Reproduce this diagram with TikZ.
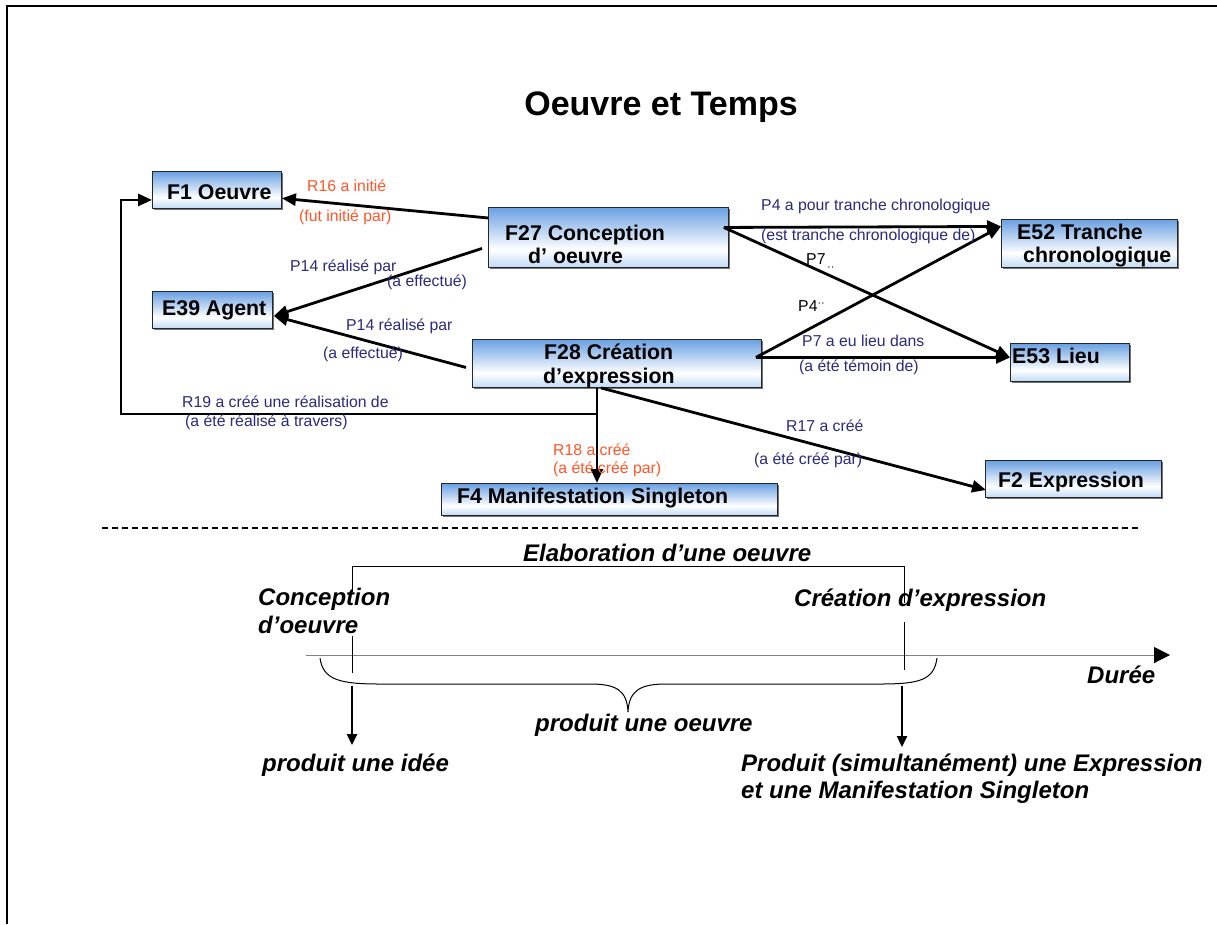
\documentclass[tikz,border=0pt]{standalone}
\usepackage{fontspec}
\setmainfont{Liberation Sans}
\usetikzlibrary{arrows.meta,calc,shadows}
\definecolor{lab}{RGB}{42,42,128}
\definecolor{lor}{RGB}{255,85,40}
\definecolor{btop}{RGB}{105,160,226}
\definecolor{bbot}{RGB}{190,218,245}
\pgfdeclareverticalshading{boxshade}{100bp}{color(0bp)=(bbot); color(25bp)=(bbot); color(40bp)=(white); color(75bp)=(btop); color(100bp)=(btop)}
\begin{document}
\begin{tikzpicture}[x=1pt,y=-1pt,
  box/.style={draw=black!85, line width=0.9pt, shading=boxshade, inner sep=0pt, anchor=north west,
    drop shadow={shadow xshift=2pt, shadow yshift=-2pt, fill=black!55, opacity=1}},
  btxt/.style={font=\fontsize{21.3}{25}\selectfont\bfseries, inner sep=0pt, anchor=base west},
  lbl/.style={font=\fontsize{15.8}{18}\selectfont, inner sep=0pt, anchor=west, text=lab},
  olbl/.style={lbl, text=lor},
  klbl/.style={lbl, text=black},
  arr/.style={line width=2.8pt, -{Triangle[length=14pt,width=12pt]}},
  itx/.style={font=\fontsize{24}{28}\selectfont\bfseries\itshape, inner sep=0pt, anchor=base west},
  down/.style={line width=2.4pt, -{Triangle[length=11pt,width=10pt]}}
]
\useasboundingbox (0,0) rectangle (1217,924);
\fill[white] (0,0) rectangle (1217,924);
\draw[line width=2pt] (7,924) -- (7,6) -- (1217,6);

\node[font=\fontsize{34}{40}\selectfont\bfseries, inner sep=0pt, anchor=base] (title) at (661,115) {Oeuvre et Temps};

% boxes
\node[box, minimum width=129pt, minimum height=37pt] (f1) at (152,171) {};
\node[box, minimum width=240pt, minimum height=60pt] (f27) at (488,207) {};
\node[box, minimum width=120pt, minimum height=37pt] (e39) at (152,291) {};
\node[box, minimum width=289pt, minimum height=48pt] (f28) at (472,339) {};
\node[box, minimum width=176pt, minimum height=48pt] (e52) at (1001,219) {};
\node[box, minimum width=119pt, minimum height=38pt] (e53) at (1010,343) {};
\node[box, minimum width=336pt, minimum height=32pt] (f4) at (441,483) {};
\node[box, minimum width=176pt, minimum height=37pt] (f2) at (985,460) {};

\node[btxt] (f1t) at (167,199) {F1 Oeuvre};
\node[btxt] (f27t) at (505,240) {F27 Conception};
\node[btxt] (f27u) at (528,263) {d’ oeuvre};
\node[btxt] (e39t) at (162,315) {E39 Agent};
\node[btxt] (f28t) at (544,359) {F28 Création};
\node[btxt] (f28u) at (543,383) {d’expression};
\node[btxt] (e52t) at (1017,239) {E52 Tranche};
\node[btxt] (e52u) at (1023,262) {chronologique};
\node[btxt] (e53t) at (1012,363) {E53 Lieu};
\node[btxt] (f4t) at (457,503) {F4 Manifestation Singleton};
\node[btxt] (f2t) at (998,487) {F2 Expression};

% connector end points
\coordinate (r16s) at ($(f27.north west)!0.18!(f27.south west)$);
\coordinate (r16e) at ($(f1.north east)!0.72!(f1.south east)$);
\coordinate (p14a) at ($(f27.west)+(-6,11)$);
\coordinate (p14b) at ($(f28.west)+(-6,4)$);
\coordinate (e39in) at ($(e39.east)+(1,6)$);
\coordinate (r19s) at ($(f28.south)+(-20,0)$);
\coordinate (c19) at (121,414);
\coordinate (f1in) at ($(f1.west)+(0,10)$);
\coordinate (r17s) at ($(f28.south)+(-16,0)$);
\coordinate (f2in) at ($(f2.west)+(1,11)$);
\coordinate (p4s) at ($(f27.east)+(-5,-10)$);
\coordinate (e52in) at ($(e52.west)+(0,-17)$);
\coordinate (e53in) at ($(e53.west)+(0,-5)$);
\coordinate (p7s) at ($(f28.east)+(-6,-6)$);

\draw[arr] (r16s) -- (r16e);
\draw[arr] (p14a) -- (e39in);
\draw[arr] (p14b) -- (e39in);
\draw[arr] (r19s) -- (r19s |- c19) -- (c19) |- (f1in);
\draw[arr] (r19s) -- (r19s |- f4.north);
\draw[arr] (r17s) -- (f2in);
\draw[arr] (p4s) -- (e52in);
\draw[arr] (p4s) -- (e53in);
\draw[arr] (p7s) -- (e52in);
\draw[arr] (p7s) -- (e53in);

% labels
\node[olbl] (l1) at (307,186) {R16 a initié};
\node[olbl] (l2) at (299,217) {(fut initié par)};
\node[lbl] (l3) at (290,267) {P14 réalisé par};
\node[lbl] (l4) at (387,282) {(a effectué)};
\node[lbl] (l5) at (346,326) {P14 réalisé par};
\node[lbl] (l6) at (323,354) {(a effectué)};
\node[lbl] (l7) at (182,402) {R19 a créé une réalisation de};
\node[lbl] (l8) at (185,422) {(a été réalisé à travers)};
\node[lbl] (l9) at (761,206) {P4 a pour tranche chronologique};
\node[lbl] (l10) at (761,236) {(est tranche chronologique de)};
\node[klbl] (l11) at (806,259) {P7};
\node[klbl, font=\fontsize{11}{11}\selectfont] (l12) at (827,269) {··};
\node[klbl] (l13) at (798,306) {P4\raisebox{5pt}{\fontsize{11}{11}\selectfont ··}};
\node[lbl] (l14) at (802,341) {P7 a eu lieu dans};
\node[lbl] (l15) at (799,367) {(a été témoin de)};
\node[olbl] (l16) at (553,450) {R18 a créé};
\node[olbl] (l17) at (553,469) {(a été créé par)};
\node[lbl] (l18) at (786,426) {R17 a créé};
\node[lbl] (l19) at (754,460) {(a été créé par)};

% separator
\draw[line width=1.5pt, dash pattern=on 6pt off 4pt] (102,528) -- (1140,528);

% timeline
\coordinate (ax0) at (306,655);
\coordinate (ax1) at (1170,655);
\draw[black!50, line width=1pt, -{Triangle[length=16pt,width=16pt,color=black]}] (ax0) -- (ax1);
\draw[line width=1pt] (352,592) -- (352,566) -- (904,566) -- (904,603);
\draw[line width=1pt] (352,636) -- (352,673);
\draw[line width=1pt] (904,622) -- (904,670);
\draw[line width=1pt] (320,658) .. controls (323,680) and (340,684) .. (380,684) -- (590,684)
  .. controls (616,684) and (627,690) .. (628,712) .. controls (629,690) and (641,684) .. (666,684)
  -- (880,684) .. controls (920,684) and (934,680) .. (937,658);
\draw[down] (352,686) -- (352,745);
\draw[down] (902,686) -- (902,747);

\node[itx] (elab) at (523,561) {Elaboration d’une oeuvre};
\node[itx] (conc) at (258,605) {Conception};
\node[itx] (conc2) at (258,633) {d’oeuvre};
\node[itx] (crea) at (794,606) {Création d’expression};
\node[itx] (duree) at (1087,683) {Durée};
\node[itx] (pro) at (535,731) {produit une oeuvre};
\node[itx] (idee) at (262,771) {produit une idée};
\node[itx] (pe1) at (741,771) {Produit (simultanément) une Expression};
\node[itx] (pe2) at (741,798) {et une Manifestation Singleton};
\end{tikzpicture}
\end{document}
